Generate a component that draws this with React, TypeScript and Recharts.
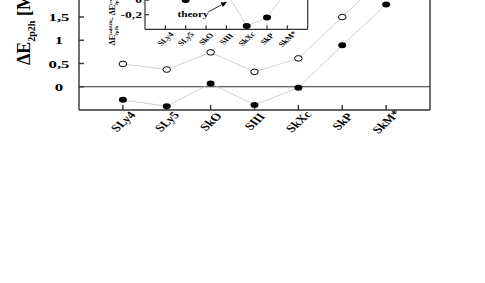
import React from 'react';
import { LineChart, Line, XAxis, YAxis, ReferenceLine, ReferenceDot } from 'recharts';

const categories = ['SLy4', 'SLy5', 'SkO', 'SIII', 'SkXc', 'SkP', 'SkM*'];
const catPositions = [1, 2, 3, 4, 5, 6, 7];
const openValues = [0.49, 0.37, 0.74, 0.32, 0.61, 1.5, 2.4];
const filledValues = [-0.28, -0.42, 0.07, -0.39, -0.02, 0.89, 1.77];
const insetValues = [0.3, 0.0, 0.35, 0.11, -0.355, -0.24, 0.13];
const mainYTicks = [0, 0.5, 1, 1.5, 2];
const insetYTicks = [-0.2, 0, 0.2];

const mainData = categories.map((c, i) => ({ x: catPositions[i], name: c, open: openValues[i], filled: filledValues[i] }));
const insetData = categories.map((c, i) => ({ x: catPositions[i], name: c, v: insetValues[i] }));

const FONT = '"Liberation Serif", "DejaVu Serif", serif';
const AX = '#333';
const LINE = '#c4c4c4';

const fmt = (v: number) => String(v).replace('.', ',');

const FilledDot = (p: any) => (p.cx == null ? <g /> : <ellipse key={p.key} cx={p.cx} cy={p.cy} rx={4} ry={3} fill="#000" />);
const OpenDot = (p: any) => (p.cx == null ? <g /> : <ellipse key={p.key} cx={p.cx} cy={p.cy} rx={3.8} ry={2.8} fill="#fff" stroke="#000" strokeWidth={1} />);

const RotTick = (props: any) => {
  const { x, y, payload, fs, dy } = props;
  return (
    <text transform={`translate(${x},${y}) scale(1.3,1) rotate(-50)`} x={0} y={0} dy={dy} textAnchor="middle" fontFamily={FONT} fontWeight="bold" fontSize={fs} fill="#000">
      {categories[payload.value - 1]}
    </text>
  );
};
const MainXTick = (props: any) => <RotTick {...props} fs={10.5} dy={3.7} />;
const InsetXTick = (props: any) => <RotTick {...props} fs={7} dy={2.5} />;

const MainYTick = ({ x, y, payload }: any) => (
  <text transform={`translate(${x},${y}) scale(1.6,1)`} textAnchor="middle" dy={4} fontFamily={FONT} fontWeight="bold" fontSize={10.5} fill="#000">
    {fmt(payload.value)}
  </text>
);
const InsetYTick = ({ x, y, payload }: any) => (
  <text transform={`translate(${x},${y}) scale(1.6,1)`} textAnchor="end" dy={3} fontFamily={FONT} fontWeight="bold" fontSize={8.5} fill="#000">
    {fmt(payload.value)}
  </text>
);

const MainYLabel = (props: any) => {
  const vb = props.viewBox || { x: 0, y: 0, width: 79, height: 139.5 };
  const x = vb.x + 30;
  const y = vb.y + vb.height - 45;
  return (
    <text transform={`translate(${x},${y}) rotate(-90)`} fontFamily={FONT} fontWeight="bold" fontSize={18} fill="#000">
      ΔE<tspan fontSize={10} dy={5}>2p2h</tspan><tspan dy={-5}> [MeV]</tspan>
    </text>
  );
};

const InsetYLabel = (props: any) => {
  const vb = props.viewBox || { x: 0, y: 0, width: 45, height: 73 };
  const x = vb.x + 15;
  const y = vb.y + vb.height + 16;
  return (
    <text transform={`translate(${x},${y}) rotate(-90)`} fontFamily={FONT} fontWeight="bold" fontSize={8} fill="#000">
      <tspan>ΔE</tspan>
      <tspan fontSize={4.5} dy={-3}>(add.th)</tspan>
      <tspan fontSize={4.5} dx={-16} dy={6}>2p2h</tspan>
      <tspan dx={6} dy={-3}>- ΔE</tspan>
      <tspan fontSize={4.5} dy={-3}>(exp)</tspan>
      <tspan fontSize={4.5} dx={-10} dy={6}>2p2h</tspan>
    </text>
  );
};

const ArrowShape = (p: any) => {
  const { x1, y1, x2, y2 } = p;
  if (x1 == null) return <g />;
  const dx = x2 - x1;
  const dy = y2 - y1;
  const len = Math.sqrt(dx * dx + dy * dy) || 1;
  const ux = dx / len;
  const uy = dy / len;
  const hl = 6;
  const hw = 2.5;
  const bx = x2 - ux * hl;
  const by = y2 - uy * hl;
  return (
    <g>
      <line x1={x1} y1={y1} x2={bx} y2={by} stroke="#000" strokeWidth={0.8} />
      <polygon points={`${x2},${y2} ${bx - uy * hw},${by + ux * hw} ${bx + uy * hw},${by - ux * hw}`} fill="#000" />
    </g>
  );
};

const TheoryText = (p: any) => (
  <text transform={`translate(${p.cx},${p.cy}) scale(1.4,1)`} textAnchor="middle" fontFamily={FONT} fontWeight="bold" fontSize={8} fill="#000">
    theory
  </text>
);

export default function App() {
  return (
    <div style={{ position: 'absolute', left: 0, top: 0, width: 485, height: 283, overflow: 'hidden', background: '#fff' }}>
      <div style={{ position: 'absolute', left: 0, top: -40 }}>
        <LineChart width={485} height={330} data={mainData} margin={{ top: 10.5, right: 54, bottom: 150, left: 0 }}>
          <XAxis
            type="number"
            dataKey="x"
            domain={[0, 8]}
            ticks={catPositions}
            interval={0}
            height={30}
            tickSize={-5}
            tickMargin={16.5}
            tick={MainXTick}
            stroke={AX}
            strokeWidth={1.4}
          />
          <YAxis
            type="number"
            domain={[-0.5, 2.5]}
            ticks={mainYTicks}
            interval={0}
            width={79}
            tickSize={-5}
            tickMargin={25}
            tick={<MainYTick />}
            stroke={AX}
            strokeWidth={1.4}
            label={<MainYLabel />}
          />
          <YAxis
            yAxisId="right"
            orientation="right"
            type="number"
            domain={[-0.5, 2.5]}
            ticks={mainYTicks}
            interval={0}
            width={1}
            tickSize={-5}
            tick={false}
            stroke={AX}
            strokeWidth={1.4}
          />
          <ReferenceLine y={0} stroke={AX} strokeWidth={1} />
          <Line dataKey="open" stroke={LINE} strokeWidth={0.8} dot={OpenDot} isAnimationActive={false} />
          <Line dataKey="filled" stroke={LINE} strokeWidth={0.8} dot={FilledDot} isAnimationActive={false} />
        </LineChart>
      </div>
      <div style={{ position: 'absolute', left: 100, top: -60 }}>
        <LineChart width={230} height={140} data={insetData} margin={{ top: 16.3, right: 21.3, bottom: 30.7, left: 0 }}>
          <XAxis
            type="number"
            dataKey="x"
            domain={[0, 8]}
            ticks={catPositions}
            interval={0}
            height={20}
            tickSize={-4}
            tickMargin={13.5}
            tick={InsetXTick}
            stroke={AX}
            strokeWidth={1.2}
          />
          <YAxis
            type="number"
            domain={[-0.4, 0.6]}
            ticks={insetYTicks}
            interval={0}
            width={45}
            tickSize={-4}
            tickMargin={7}
            tick={<InsetYTick />}
            stroke={AX}
            strokeWidth={1.2}
            label={<InsetYLabel />}
          />
          <YAxis
            yAxisId="right"
            orientation="right"
            type="number"
            domain={[-0.4, 0.6]}
            ticks={insetYTicks}
            interval={0}
            width={1}
            tickSize={-4}
            tick={false}
            stroke={AX}
            strokeWidth={1.2}
          />
          <Line dataKey="v" stroke={LINE} strokeWidth={0.8} dot={FilledDot} isAnimationActive={false} />
          <ReferenceLine segment={[{ x: 3.1, y: -0.163 }, { x: 4.03, y: -0.026 }]} shape={ArrowShape} />
          <ReferenceDot x={2.36} y={-0.232} r={0} shape={TheoryText} />
        </LineChart>
      </div>
    </div>
  );
}
